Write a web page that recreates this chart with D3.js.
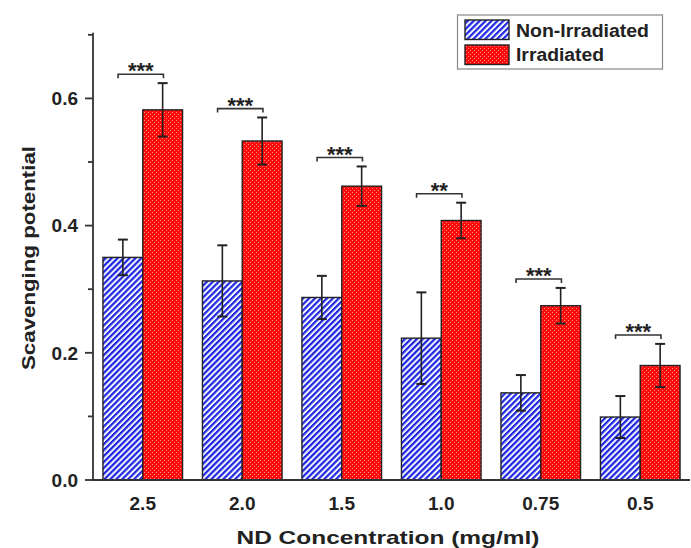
<!DOCTYPE html>
<html>
<head>
<meta charset="utf-8">
<script src="https://d3js.org/d3.v7.min.js"></script>
<style>
  body { margin: 0; background: #fff; }
  text { font-family: "Liberation Sans", Arial, sans-serif; font-weight: bold; fill: #222; }
</style>
</head>
<body>
<script>
// concentrations (mg/ml)
var categories = ["2.5", "2.0", "1.5", "1.0", "0.75", "0.5"];
// scavenging potential, mean and error
var nonIrradiated = [0.350, 0.313, 0.287, 0.223, 0.137, 0.099];
var nonIrradiatedErr = [0.028, 0.056, 0.034, 0.072, 0.028, 0.033];
var irradiated = [0.582, 0.533, 0.462, 0.408, 0.274, 0.180];
var irradiatedErr = [0.042, 0.037, 0.031, 0.028, 0.028, 0.034];
var significance = ["***", "***", "***", "**", "***", "***"];
var yTicks = [0, 0.1, 0.2, 0.3, 0.4, 0.5, 0.6, 0.7];
var seriesNames = ["Non-Irradiated", "Irradiated"];

var width = 691, height = 548;
var svg = d3.select("body").append("svg").attr("width", width).attr("height", height);

var defs = svg.append("defs");
// blue diagonal hatch
var hatch = defs.append("pattern").attr("id", "hatch").attr("patternUnits", "userSpaceOnUse")
  .attr("width", 4.2).attr("height", 4.2).attr("patternTransform", "rotate(45)");
hatch.append("rect").attr("width", 4.2).attr("height", 4.2).attr("fill", "#f6f6ff");
hatch.append("rect").attr("width", 2.2).attr("height", 4.2).attr("fill", "#1e26e0");
// red dotted fill
var dots = defs.append("pattern").attr("id", "dots").attr("patternUnits", "userSpaceOnUse")
  .attr("width", 4).attr("height", 4);
dots.append("rect").attr("width", 4).attr("height", 4).attr("fill", "#ff0a0a");
dots.append("rect").attr("x", 0).attr("y", 0).attr("width", 1).attr("height", 1).attr("fill", "#ff8a8a");
dots.append("rect").attr("x", 2).attr("y", 2).attr("width", 1).attr("height", 1).attr("fill", "#ff8a8a");

var x = d3.scaleBand().domain(categories).range([93, 690]).paddingInner(0.2).paddingOuter(0.1);
var y = d3.scaleLinear().domain([0, 0.7]).range([480, 34.8]);
var bw = x.bandwidth() / 2;

var fills = ["url(#hatch)", "url(#dots)"];
var series = [
  {vals: nonIrradiated, errs: nonIrradiatedErr},
  {vals: irradiated, errs: irradiatedErr}
];

// bars + error bars
series.forEach(function(s, si) {
  var g = svg.append("g");
  categories.forEach(function(c, i) {
    var x0 = x(c) + si * bw;
    var v = s.vals[i], e = s.errs[i];
    g.append("rect").attr("x", x0).attr("y", y(v)).attr("width", bw).attr("height", y(0) - y(v))
      .attr("fill", fills[si]).attr("stroke", "#222").attr("stroke-width", 1.4);
    var cx = x0 + bw / 2;
    g.append("line").attr("x1", cx).attr("x2", cx).attr("y1", y(v + e)).attr("y2", y(v - e))
      .attr("stroke", "#222").attr("stroke-width", 1.6);
    [v + e, v - e].forEach(function(t) {
      g.append("line").attr("x1", cx - 5).attr("x2", cx + 5).attr("y1", y(t)).attr("y2", y(t))
        .attr("stroke", "#222").attr("stroke-width", 2);
    });
  });
});

// significance brackets
categories.forEach(function(c, i) {
  var top = irradiated[i] + irradiatedErr[i] + 0.014;
  var x1 = x(c) + x.bandwidth() * 0.19, x2 = x(c) + x.bandwidth() * 0.76;
  var yy = y(top);
  svg.append("path").attr("d", "M" + x1 + "," + (yy + 4) + "V" + yy + "H" + x2 + "V" + (yy + 4))
    .attr("fill", "none").attr("stroke", "#333").attr("stroke-width", 1.6);
  svg.append("text").attr("x", (x1 + x2) / 2).attr("y", yy + 4).attr("text-anchor", "middle")
    .attr("font-size", 22).text(significance[i]);
});

// y axis
var yAxis = svg.append("g").attr("transform", "translate(93,0)");
yAxis.append("line").attr("x1", 0).attr("x2", 0).attr("y1", 32.7).attr("y2", y(0)).attr("stroke", "#333").attr("stroke-width", 1.8);
yTicks.forEach(function(t, i) {
  var major = i % 2 === 0;
  yAxis.append("line").attr("x1", major ? -8 : -5).attr("x2", 0).attr("y1", y(t)).attr("y2", y(t))
    .attr("stroke", "#333").attr("stroke-width", 1.8);
  if (major) {
    yAxis.append("text").attr("x", -15).attr("y", y(t)).attr("dy", "0.36em").attr("text-anchor", "end")
      .attr("font-size", 19).text(t.toFixed(1));
  }
});

// x axis
svg.append("line").attr("x1", 93).attr("x2", 690).attr("y1", y(0)).attr("y2", y(0)).attr("stroke", "#333").attr("stroke-width", 1.8);
categories.forEach(function(c) {
  svg.append("text").attr("x", x(c) + x.bandwidth() / 2).attr("y", 510).attr("text-anchor", "middle")
    .attr("font-size", 19).text(c);
});

// axis titles
svg.append("text").attr("x", 388).attr("y", 544).attr("text-anchor", "middle").attr("font-size", 19)
  .attr("textLength", 303).attr("lengthAdjust", "spacingAndGlyphs").text("ND Concentration (mg/ml)");
svg.append("text").attr("transform", "translate(35,258) rotate(-90)").attr("text-anchor", "middle").attr("font-size", 19)
  .attr("textLength", 224).attr("lengthAdjust", "spacingAndGlyphs").text("Scavenging potential");

// legend
var legend = svg.append("g");
legend.append("rect").attr("x", 457.5).attr("y", 15).attr("width", 205).attr("height", 54)
  .attr("fill", "#fff").attr("stroke", "#888").attr("stroke-width", 1.2);
seriesNames.forEach(function(n, i) {
  legend.append("rect").attr("x", 465).attr("y", 20 + i * 25).attr("width", 44).attr("height", 19.5)
    .attr("fill", fills[i]).attr("stroke", "#222").attr("stroke-width", 1.4);
  legend.append("text").attr("x", 516).attr("y", 36.5 + i * 24.5).attr("font-size", 18)
    .attr("textLength", i === 0 ? 133 : 88).attr("lengthAdjust", "spacingAndGlyphs").text(n);
});
</script>
</body>
</html>
